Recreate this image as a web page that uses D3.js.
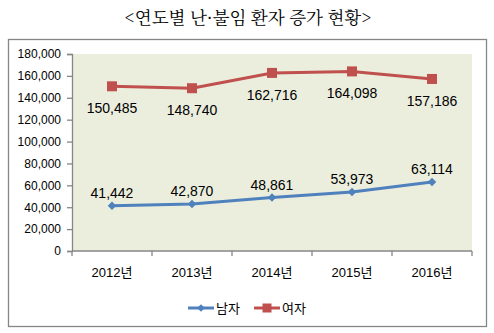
<!DOCTYPE html>
<html><head><meta charset="utf-8">
<script src="https://cdn.jsdelivr.net/npm/d3@7"></script>
<style>body{margin:0;background:#fff}svg{display:block}</style>
</head><body><svg id="c" width="494" height="333"></svg>
<script>
const title = "<연도별 난·불임 환자 증가 현황>";
const categories = ["2012년","2013년","2014년","2015년","2016년"];
const male = [41442, 42870, 48861, 53973, 63114];
const female = [150485, 148740, 162716, 164098, 157186];
const seriesNames = ["남자","여자"];
const yTicks = [0,20000,40000,60000,80000,100000,120000,140000,160000,180000];

(function(){
const svg = d3.select("#c");
const font = "'Liberation Sans', Arial, 'Noto Sans CJK KR', sans-serif";
const pL = 72, pR = 472, pT = 54, pB = 251;
const blue = "#4F81BD", red = "#C0504D";

svg.append("text").attr("x", 248).attr("y", 24).attr("text-anchor","middle")
  .attr("font-family","'Noto Serif CJK KR','Noto Sans CJK KR',serif").attr("font-size",17.5)
  .attr("fill","#000").text(title);

svg.append("rect").attr("x",8.5).attr("y",39.5).attr("width",478).attr("height",287)
  .attr("fill","#fff").attr("stroke","#868686").attr("stroke-width",1.3);

const x = d3.scaleBand().domain(categories).range([pL,pR]);
const y = d3.scaleLinear().domain([0,180000]).range([pB,pT]);

svg.append("rect").attr("x",pL).attr("y",pT).attr("width",pR-pL).attr("height",pB-pT)
  .attr("fill","#EBEEDD");

const yAxis = svg.append("g").attr("transform",`translate(${pL},0)`)
  .call(d3.axisLeft(y).tickValues(yTicks).tickFormat(d3.format(",")).tickSize(5).tickPadding(6));
const xAxis = svg.append("g").attr("transform",`translate(0,${pB})`)
  .call(d3.axisBottom(x).tickSize(0).tickPadding(17));
[yAxis,xAxis].forEach(a=>{
  a.selectAll("path,line").attr("stroke","#868686").attr("stroke-width",1.3);
  a.selectAll("text").attr("font-family",font).attr("font-size",12).attr("fill","#000");
});
xAxis.selectAll("text").attr("font-size",13);
xAxis.select(".domain").attr("d",`M${pL},0H${pR}`);
xAxis.selectAll(".bt").data(d3.range(categories.length+1)).enter().append("line")
  .attr("x1",i=>pL+i*x.step()).attr("x2",i=>pL+i*x.step()).attr("y1",0).attr("y2",5)
  .attr("stroke","#868686").attr("stroke-width",1.3);

const cx = d => x(d)+x.bandwidth()/2;
const line = d3.line().x((d,i)=>cx(categories[i])).y(d=>y(d));

svg.append("path").datum(male).attr("d",line).attr("fill","none").attr("stroke",blue).attr("stroke-width",3);
svg.append("path").datum(female).attr("d",line).attr("fill","none").attr("stroke",red).attr("stroke-width",3);

svg.selectAll(".m").data(male).enter().append("path")
  .attr("transform",(d,i)=>`translate(${cx(categories[i])},${y(d)}) rotate(45)`)
  .attr("d",d3.symbol().type(d3.symbolSquare).size(36)).attr("fill",blue);
svg.selectAll(".f").data(female).enter().append("rect")
  .attr("x",(d,i)=>cx(categories[i])-5).attr("y",d=>y(d)-5).attr("width",10).attr("height",10).attr("fill",red);

svg.selectAll(".ml").data(male).enter().append("text")
  .attr("x",(d,i)=>cx(categories[i])).attr("y",d=>y(d)-8).attr("text-anchor","middle")
  .attr("font-family",font).attr("font-size",14).attr("fill","#000").text(d3.format(","));
svg.selectAll(".fl").data(female).enter().append("text")
  .attr("x",(d,i)=>cx(categories[i])).attr("y",d=>y(d)+27).attr("text-anchor","middle")
  .attr("font-family",font).attr("font-size",14).attr("fill","#000").text(d3.format(","));

const lg = svg.append("g");
const items = [{n:seriesNames[0],c:blue,x:188},{n:seriesNames[1],c:red,x:254}];
items.forEach((it,i)=>{
  lg.append("line").attr("x1",it.x).attr("x2",it.x+26).attr("y1",308).attr("y2",308).attr("stroke",it.c).attr("stroke-width",3);
  if(i===0) lg.append("path").attr("transform",`translate(${it.x+13},308) rotate(45)`).attr("d",d3.symbol().type(d3.symbolSquare).size(30)).attr("fill",it.c);
  else lg.append("rect").attr("x",it.x+8.5).attr("y",303.5).attr("width",9).attr("height",9).attr("fill",it.c);
  lg.append("text").attr("x",it.x+28).attr("y",312.5).attr("font-family",font).attr("font-size",13).attr("fill","#000").text(it.n);
});
})();
</script></body></html>
